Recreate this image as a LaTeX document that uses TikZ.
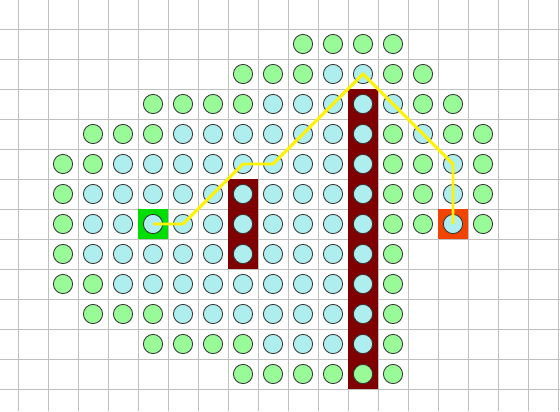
\documentclass[tikz,border=0pt]{standalone}
\usepackage[usenames,dvipsnames]{xcolor}
\usepackage{tikz}

\definecolor{dotg}{HTML}{98FB98}
\definecolor{dotc}{HTML}{AFEEEE}
\definecolor{wallred}{HTML}{7F0000}
\definecolor{startgreen}{HTML}{00DD00}
\definecolor{goalorange}{HTML}{F04400}

\tikzset{
  gridline/.style={draw=black!25, line width=0.9pt},
  dot/.style={circle, draw=black!80, line width=0.8pt, fill=dot#1, minimum size=0.64cm, inner sep=0pt},
  square/.style={rectangle, minimum size=1cm, inner sep=0pt},
  route/.style={draw=yellow, line width=2.8pt}
}

\begin{document}
\begin{tikzpicture}

\useasboundingbox (-0.1,-13.2333) rectangle (18.5667,0.4667);

% grid
\draw[gridline, shift={(0.5,0.5)}] (-0.6,-13.7333) grid (18.0667,-0.0333);

% walls
\fill[wallred] (7.5,-5.5) rectangle (8.5,-8.5);
\fill[wallred] (11.5,-2.5) rectangle (12.5,-12.5);

% start and goal
\node[square, fill=startgreen] (start) at (5,-7) {};
\node[square, fill=goalorange] (goal) at (15,-7) {};

% visited cells
\foreach \j/\cells in {
  1/{10/g,11/g,12/g,13/g},
  2/{8/g,9/g,10/g,11/c,12/c,13/g,14/g},
  3/{5/g,6/g,7/g,8/g,9/c,10/c,11/c,12/c,13/c,14/g,15/g},
  4/{3/g,4/g,5/g,6/c,7/c,8/c,9/c,10/c,11/c,12/c,13/g,14/c,15/g,16/g},
  5/{2/g,3/g,4/c,5/c,6/c,7/c,8/c,9/c,10/c,11/c,12/c,13/g,14/g,15/c,16/g},
  6/{2/g,3/c,4/c,5/c,6/c,7/c,8/c,9/c,10/c,11/c,12/c,13/g,14/g,15/c,16/g},
  7/{2/g,3/c,4/c,5/c,6/c,7/c,8/c,9/c,10/c,11/c,12/c,13/g,14/g,15/c,16/g},
  8/{2/g,3/c,4/c,5/c,6/c,7/c,8/c,9/c,10/c,11/c,12/c,13/g},
  9/{2/g,3/g,4/c,5/c,6/c,7/c,8/c,9/c,10/c,11/c,12/c,13/g},
  10/{3/g,4/g,5/g,6/c,7/c,8/c,9/c,10/c,11/c,12/c,13/g},
  11/{5/g,6/g,7/g,8/g,9/c,10/c,11/c,12/c,13/g},
  12/{8/g,9/g,10/g,11/g,12/g,13/g}}
  \foreach \i/\s in \cells
    \node[dot=\s] (c-\i-\j) at (\i,-\j) {};

% path
\draw[route] (c-5-7.center) -- (c-6-7.center) -- (c-8-5.center) -- (c-9-5.center)
  -- (c-12-2.center) -- (c-15-5.center) -- (c-15-7.center);

\end{tikzpicture}
\end{document}
